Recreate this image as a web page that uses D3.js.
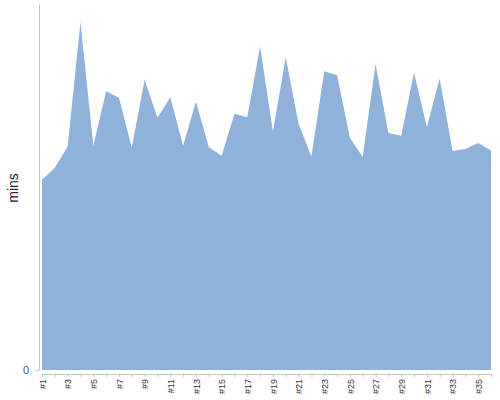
<!DOCTYPE html>
<html>
<head>
<meta charset="utf-8">
<script src="https://cdn.jsdelivr.net/npm/d3@7"></script>
<style>
body { margin: 0; background: #fff; }
svg { display: block; font-family: "Liberation Sans", Arial, sans-serif; }
</style>
</head>
<body>
<div id="chart"></div>
<script>
var width = 500;
var height = 400;

// one entry per session, #1 .. #36
var labels = d3.range(1, 37).map(function (i) { return "#" + i; });
var mins = [28.6, 30.4, 33.6, 52.3, 33.7, 41.9, 40.9, 33.4, 43.6, 37.9,
            41.0, 33.7, 40.3, 33.5, 32.2, 38.5, 38.0, 48.6, 35.8, 47.0,
            37.0, 32.1, 44.9, 44.3, 34.9, 32.0, 46.0, 35.6, 35.2, 44.7,
            36.5, 43.8, 32.9, 33.2, 34.1, 33.0];
var yMax = 55;

var svg = d3.select("#chart").append("svg")
    .attr("width", width)
    .attr("height", height);

var x = d3.scalePoint().domain(labels).range([42, 491]);
var y = d3.scaleLinear().domain([0, yMax]).range([370, 4]);

var area = d3.area()
    .x(function (d, i) { return x(labels[i]); })
    .y0(y(0))
    .y1(function (d) { return y(d); });

svg.append("path")
    .datum(mins)
    .attr("d", area)
    .attr("fill", "#8fb1da");

// y axis: plain line with a single 0 label
var yAxis = svg.append("g").attr("transform", "translate(39,0)")
    .call(d3.axisLeft(y).tickValues([0]).tickSize(3).tickSizeOuter(0));
yAxis.select(".domain").attr("stroke", "#c4c4c4");
yAxis.selectAll(".tick line").attr("stroke", "#c4c4c4");
yAxis.selectAll("text").attr("fill", "#555").attr("font-size", 11).attr("x", -10);

// x axis below the area
var xAxis = svg.append("g").attr("transform", "translate(0,374)")
    .call(d3.axisBottom(x).tickSize(3).tickSizeOuter(0)
        .tickFormat(function (d, i) { return i % 2 == 0 ? d : ""; }));
xAxis.select(".domain").attr("stroke", "#c4c4c4");
xAxis.selectAll(".tick line").attr("stroke", "#c4c4c4");
xAxis.selectAll("text")
    .attr("fill", "#333")
    .attr("font-size", 9)
    .attr("transform", "rotate(-90)")
    .attr("text-anchor", "end")
    .attr("x", -5)
    .attr("y", 0)
    .attr("dy", "0.35em");

svg.append("text")
    .attr("transform", "translate(18,188) rotate(-90)")
    .attr("text-anchor", "middle")
    .attr("font-size", 14)
    .attr("fill", "#222")
    .text("mins");
</script>
</body>
</html>
